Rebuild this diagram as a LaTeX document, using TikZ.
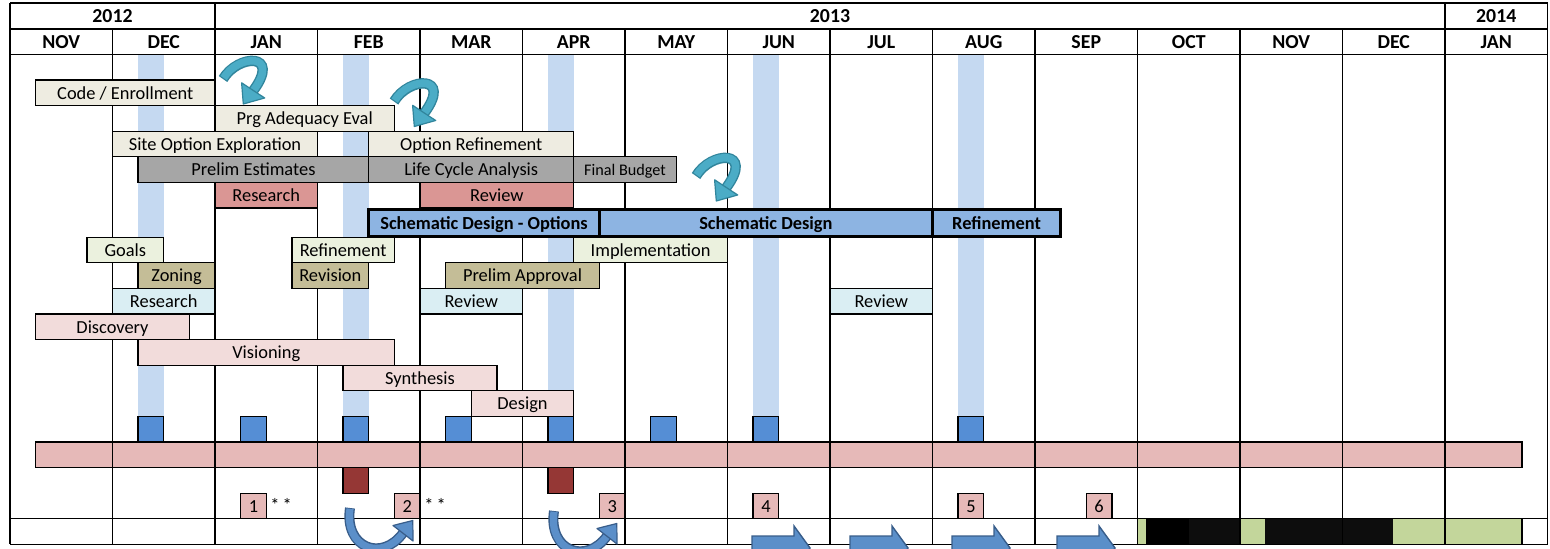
\documentclass[tikz,border=0pt]{standalone}
\usepackage{fontspec}
\setmainfont{Carlito}
\definecolor{cream}{HTML}{EEECE1}
\definecolor{gray1}{HTML}{A6A6A6}
\definecolor{rose}{HTML}{DA9694}
\definecolor{schem}{HTML}{8DB4E2}
\definecolor{lgreen}{HTML}{EBF1DE}
\definecolor{khaki}{HTML}{C4BD97}
\definecolor{lcyan}{HTML}{DAEEF3}
\definecolor{lpink}{HTML}{F2DCDB}
\definecolor{stripe}{HTML}{C5D9F1}
\definecolor{sqblue}{HTML}{558ED5}
\definecolor{pinkbar}{HTML}{E6B9B8}
\definecolor{dred}{HTML}{953735}
\definecolor{bgreen}{HTML}{C3D69B}
\definecolor{nblack}{HTML}{0D0D0D}
\definecolor{tealL}{HTML}{4BACC6}
\definecolor{tealD}{HTML}{31859C}
\definecolor{blueL}{HTML}{5B8FC9}
\definecolor{blueD}{HTML}{385D8A}
\newcommand\tb[7]{\node[bx,#2,minimum width={(#4-#3)*12.8125pt},minimum height={(#6-#5)*0.5pt}] (#1) at ({q((#3+#4)/2)},{(#5+#6)/2}) {#7};}
\newcommand\tealarr{%
  \draw[line width=5.2pt, draw=tealD] (223,79) .. controls (238,54) and (282,52) .. (253,91);
  \draw[line width=3.8pt, draw=tealL] (223.7,78) .. controls (238,54) and (282,52) .. (253,91);
  \filldraw[fill=tealL, draw=tealD, line width=0.6pt, line join=round] (241.6,82.8) -- (243.3,104) -- (264.7,98) -- cycle;}
\newcommand\bluecurve{%
  \draw[line width=5pt, draw=blueD] (350,508) .. controls (344,548) and (382,562) .. (403,533);
  \draw[line width=3.6pt, draw=blueL] (350,508.8) .. controls (344,548) and (382,562) .. (403,533);
  \filldraw[fill=blueL, draw=blueD, line width=0.6pt, line join=round] (393,525.5) -- (412.8,520.5) -- (413,541) -- cycle;}
\newcommand\blockarr[1]{\filldraw[fill=blueL, draw=blueD, line width=0.7pt] (#1,536) -- ++(42,0) -- ++(0,-10) -- ++(16,22) -- ++(-16,22) -- ++(0,-10) -- ++(-42,0) -- cycle;}
\begin{document}
\begin{tikzpicture}[x=0.5pt,y=-0.5pt,
  declare function={q(\k)=10+25.625*\k;},
  grid/.style={line width=0.65pt, draw=black},
  bx/.style={draw=black, line width=0.65pt, inner sep=0pt, outer sep=0pt, font=\fontsize{9.2}{10}\selectfont, text=black, text height=8pt, text depth=1.7pt},
  sch/.style={fill=schem, line width=1.6pt, font=\fontsize{9.2}{10}\selectfont\bfseries},
  hd/.style={inner sep=0pt, font=\fontsize{9.9}{11}\selectfont\bfseries, text height=8.3pt, text depth=1.9pt},
  sq/.style={bx, minimum width=12.8125pt, minimum height=12.8pt}]
\useasboundingbox (0,0) rectangle (1550,549);
\fill[white] (0,0) rectangle (1550,549);
\begin{scope}
\clip (0,0) rectangle (1550,549);
% stripes
\foreach \k in {5,13,21,29,37} \fill[stripe] ({q(\k)},54.5) rectangle ({q(\k+1)},416.4);
% pink bar and bottom bar
\node[bx, fill=pinkbar, minimum width={58*12.8125pt}, minimum height=12.8pt] (pinkbar) at ({q(30)},454.8) {};
\fill[bgreen] ({q(44)},518.8) rectangle ({q(59)},544.4);
\fill[black] (1145.5,518.8) rectangle (1189,544.4);
\fill[nblack] (1189,518.8) rectangle (1240,544.4);
\fill[nblack] (1265,518.8) rectangle (1393,544.4);
\draw[grid] ({q(44)},518.8) rectangle ({q(59)},544.4);
% grid
\foreach \i in {1,3,4,5,6,7,8,9,10,11,12,13} \draw[grid] ({q(4*\i)},29) -- ({q(4*\i)},544.4);
\foreach \i in {0,2,14,15} \draw[grid] ({q(4*\i)},3) -- ({q(4*\i)},544.4);
\foreach \y in {3,29,54.5,518.8,544.4} \draw[grid] ({q(0)},\y) -- ({q(60)},\y);
% header
\node[hd] (y2012) at ({q(4)},16) {2012};
\node[hd] (y2013) at ({q(32)},16) {2013};
\node[hd] (y2014) at ({q(58)},16) {2014};
\foreach \m [count=\c from 0] in {NOV,DEC,JAN,FEB,MAR,APR,MAY,JUN,JUL,AUG,SEP,OCT,NOV,DEC,JAN}
  \node[hd] (m\c) at ({q(4*\c+2)},41.75) {\m};
% tasks
\tb{code}{fill=cream}{1}{8}{80}{105.6}{Code / Enrollment}
\tb{prg}{fill=cream}{8}{15}{105.6}{131.2}{Prg Adequacy Eval}
\tb{site}{fill=cream}{4}{12}{131.2}{156.8}{Site Option Exploration}
\tb{optref}{fill=cream}{14}{22}{131.2}{156.8}{Option Refinement}
\tb{prelim}{fill=gray1}{5}{14}{156.8}{182.4}{Prelim Estimates}
\tb{lca}{fill=gray1}{14}{22}{156.8}{182.4}{Life Cycle Analysis}
\tb{fb}{fill=gray1,font=\fontsize{8.1}{9}\selectfont}{22}{26}{156.8}{182.4}{Final Budget}
\tb{res1}{fill=rose}{8}{12}{182.4}{208}{Research}
\tb{rev1}{fill=rose}{16}{22}{182.4}{208}{Review}
\tb{sdo}{sch}{14}{23}{209.6}{236.4}{Schematic Design - Options}
\tb{sd}{sch}{23}{36}{209.6}{236.4}{Schematic Design}
\tb{sdr}{sch}{36}{41}{209.6}{236.4}{Refinement}
\tb{goals}{fill=lgreen}{3}{6}{237.2}{262.8}{Goals}
\tb{ref2}{fill=lgreen}{11}{15}{237.2}{262.8}{Refinement}
\tb{impl}{fill=lgreen}{22}{28}{237.2}{262.8}{Implementation}
\tb{zon}{fill=khaki}{5}{8}{262.8}{288.4}{Zoning}
\tb{revis}{fill=khaki}{11}{14}{262.8}{288.4}{Revision}
\tb{pa}{fill=khaki}{17}{23}{262.8}{288.4}{Prelim Approval}
\tb{res2}{fill=lcyan}{4}{8}{288.4}{314}{Research}
\tb{rev2}{fill=lcyan}{16}{20}{288.4}{314}{Review}
\tb{rev3}{fill=lcyan}{32}{36}{288.4}{314}{Review}
\tb{disc}{fill=lpink}{1}{7}{314}{339.6}{Discovery}
\tb{vis}{fill=lpink}{5}{15}{339.6}{365.2}{Visioning}
\tb{syn}{fill=lpink}{13}{19}{365.2}{390.8}{Synthesis}
\tb{des}{fill=lpink}{18}{22}{390.8}{416.4}{Design}
% squares
\foreach \k in {5,9,13,17,21,25,29,37} \node[sq, fill=sqblue] (bs\k) at ({q(\k+0.5)},429.2) {};
\foreach \k in {13,21} \node[sq, fill=dred] (dr\k) at ({q(\k+0.5)},480.4) {};
\foreach \k/\n in {9/1,15/2,23/3,29/4,37/5,42/6} \node[sq, fill=pinkbar] (n\n) at ({q(\k+0.5)},506) {\n};
\node[anchor=west, inner sep=0pt, font=\fontsize{9.2}{10}\selectfont] (ast1) at (270,505) {*\,*};
\node[anchor=west, inner sep=0pt, font=\fontsize{9.2}{10}\selectfont] (ast2) at (424,505) {*\,*};
% arrows
\tealarr
\begin{scope}[shift={(171,22.5)}]\tealarr\end{scope}
\begin{scope}[shift={(473,97)}]\tealarr\end{scope}
\bluecurve
\begin{scope}[shift={(204,3)}]\bluecurve\end{scope}
\blockarr{752}
\blockarr{850}
\blockarr{952}
\blockarr{1057}
\end{scope}
\end{tikzpicture}
\end{document}
